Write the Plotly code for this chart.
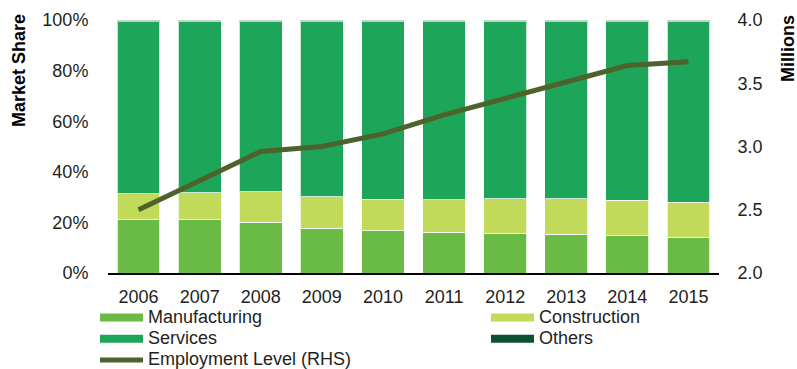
import plotly.graph_objects as go

# Employment by sector: share of total (%) and total employment level (millions)
years = ["2006", "2007", "2008", "2009", "2010", "2011", "2012", "2013", "2014", "2015"]
manufacturing = [21.0, 21.0, 20.0, 17.6, 16.8, 16.2, 15.8, 15.4, 14.7, 14.2]
construction = [10.3, 10.8, 12.2, 12.6, 12.4, 12.7, 13.5, 13.9, 14.0, 13.8]
others = [0.7, 0.7, 0.7, 0.7, 0.7, 0.7, 0.7, 0.7, 0.7, 0.7]
services = [round(100 - m - c - o, 1) for m, c, o in zip(manufacturing, construction, others)]
employment = [2.50, 2.73, 2.96, 3.00, 3.10, 3.25, 3.38, 3.51, 3.64, 3.67]

left_ticks = [0, 20, 40, 60, 80, 100]
right_ticks = [2.0, 2.5, 3.0, 3.5, 4.0]

FONT = "Liberation Sans, Arial, sans-serif"
C_MAN = "#6abb46"
C_CON = "#c1da5a"
C_SER = "#1da55a"
C_OTH = "#0b5134"
C_EMP = "#4e622c"


def label(text):
    return f"<span style='font-size:18px'>{text}</span>"


fig = go.Figure()

edge = dict(color="rgba(255,255,255,0.75)", width=1)
for name, vals, col in [
    ("Manufacturing", manufacturing, C_MAN),
    ("Construction", construction, C_CON),
    ("Services", services, C_SER),
    ("Others", others, C_OTH),
]:
    fig.add_trace(go.Bar(x=years, y=vals, name=name, marker=dict(color=col, line=edge),
                         showlegend=False, yaxis="y"))

fig.add_trace(go.Scatter(x=years, y=employment, mode="lines", yaxis="y2",
                         line=dict(color=C_EMP, width=5),
                         name=label("Employment Level (RHS)"), legend="legend", legendrank=3))

# legend swatches for the stacked sectors
for name, col, lg, rank in [
    ("Manufacturing", C_MAN, "legend", 1),
    ("Services", C_SER, "legend", 2),
    ("Construction", C_CON, "legend2", 1),
    ("Others", C_OTH, "legend2", 2),
]:
    fig.add_trace(go.Scatter(x=[years[0]], y=[None], mode="lines", yaxis="y",
                             line=dict(color=col, width=8), hoverinfo="skip",
                             name=label(name), legend=lg, legendrank=rank))

legend_common = dict(orientation="v", xref="container", yref="container",
                     xanchor="left", yanchor="top", bgcolor="rgba(0,0,0,0)",
                     font=dict(family=FONT, size=14, color="#231f20"),
                     itemwidth=43, tracegroupgap=0, traceorder="normal")

fig.update_layout(
    width=797, height=369,
    margin=dict(l=108, r=78, t=20, b=96, autoexpand=False),
    paper_bgcolor="white", plot_bgcolor="white",
    barmode="stack", bargap=0.3,
    font=dict(family=FONT, size=18, color="#231f20"),
    xaxis=dict(type="category", categoryorder="array", categoryarray=years,
               range=[-0.5, 9.5], showgrid=False, automargin=False,
               showline=True, linecolor="#000000", linewidth=2,
               ticks="outside", ticklen=6, tickcolor="rgba(0,0,0,0)",
               tickangle=0, tickfont=dict(size=18)),
    yaxis=dict(range=[0, 100], tickmode="array", tickvals=left_ticks,
               ticktext=[f"{v}%" for v in left_ticks], automargin=False,
               showgrid=False, zeroline=False, showline=False,
               ticks="outside", ticklen=15, tickcolor="rgba(0,0,0,0)",
               tickfont=dict(size=18)),
    yaxis2=dict(range=[2, 4], tickmode="array", tickvals=right_ticks,
                ticktext=[f"{v:.1f}" for v in right_ticks], automargin=False,
                overlaying="y", side="right", showgrid=False, zeroline=False,
                showline=False, ticks="outside", ticklen=14,
                tickcolor="rgba(0,0,0,0)", tickfont=dict(size=18)),
    legend=dict(x=95 / 797, y=1 - 302 / 369, **legend_common),
    legend2=dict(x=486 / 797, y=1 - 302 / 369, **legend_common),
    annotations=[
        dict(text="<b>Market Share</b>", xref="paper", yref="paper",
             x=(19.5 - 108) / 611, y=(273 - 70.5) / 253, textangle=-90,
             showarrow=False, xanchor="center", yanchor="middle",
             font=dict(family=FONT, size=18, color="#000000")),
        dict(text="<b>Millions</b>", xref="paper", yref="paper",
             x=(788 - 108) / 611, y=(273 - 49) / 253, textangle=-90,
             showarrow=False, xanchor="center", yanchor="middle",
             font=dict(family=FONT, size=18, color="#000000")),
    ],
)

fig.write_html("out.html")
